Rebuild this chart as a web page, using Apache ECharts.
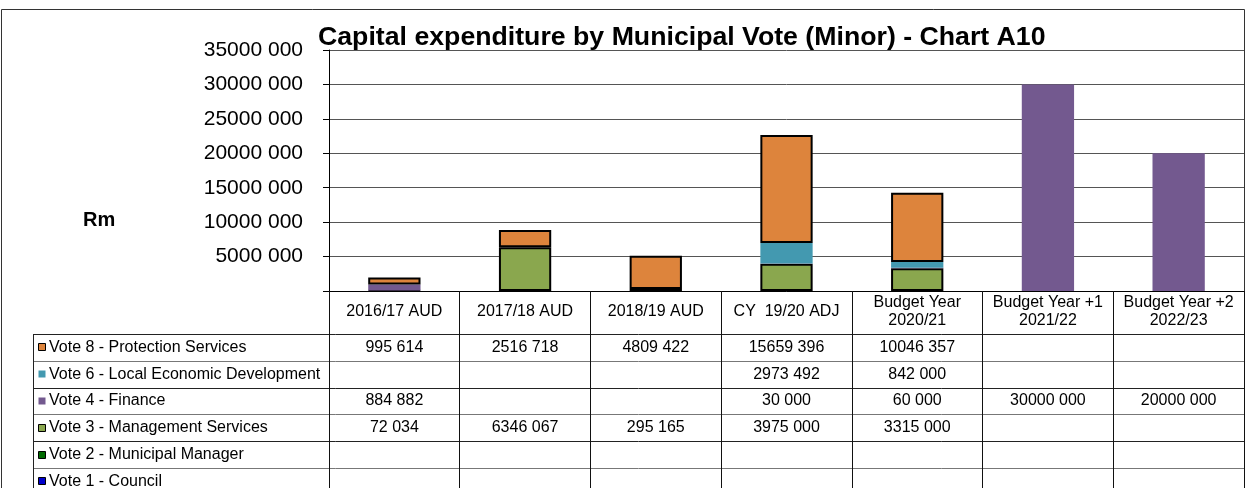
<!DOCTYPE html>
<html>
<head>
<meta charset="utf-8">
<script src="https://cdn.jsdelivr.net/npm/echarts@6/dist/echarts.min.js"></script>
<style>
  html, body { margin: 0; padding: 0; background: #fff; }
  #chart { width: 1251px; height: 488px; }
</style>
</head>
<body>
<div id="chart"></div>
<script>
// Categories (financial years) shown in the header row of the data table
const categories = [
  '2016/17 AUD', '2017/18 AUD', '2018/19 AUD', 'CY  19/20 ADJ',
  'Budget Year\n2020/21', 'Budget Year +1\n2021/22', 'Budget Year +2\n2022/23'
];

// Capital expenditure per vote (Rand)
const vote8 = [995614, 2516718, 4809422, 15659396, 10046357, null, null];
const vote6 = [null, null, null, 2973492, 842000, null, null];
const vote4 = [884882, null, null, 30000, 60000, 30000000, 20000000];
const vote3 = [72034, 6346067, 295165, 3975000, 3315000, null, null];
const vote2 = [null, null, null, null, null, null, null];
const vote1 = [null, null, null, null, null, null, null];

// Table rows, top to bottom
const rowNames = [
  'Vote 8 - Protection Services',
  'Vote 6 - Local Economic Development',
  'Vote 4 - Finance',
  'Vote 3 - Management Services',
  'Vote 2 - Municipal Manager',
  'Vote 1 - Council'
];
const rowData = [vote8, vote6, vote4, vote3, vote2, vote1];

// Value axis range
const yMin = 0, yMax = 35000000, yStep = 5000000;

const FONT = "'Liberation Sans', Arial, sans-serif";
const colors = ['#DD843C', '#4399B0', '#73598F', '#8AA74E', '#006A00', '#0000CC'];
const bordered = [true, false, false, true, true, true];

// "35000 000" style: last three digits split off by a space
function fmt(v) {
  if (v == null) return '';
  const th = Math.floor(v / 1000);
  const r = v % 1000;
  return th > 0 ? th + ' ' + String(r).padStart(3, '0') : String(r);
}

const chart = echarts.init(document.getElementById('chart'), null, { renderer: 'canvas' });

// Stack from the bottom: Vote 1 .. Vote 8
const stackOrder = [5, 4, 3, 2, 1, 0];
const series = stackOrder.map(i => ({
  name: rowNames[i],
  type: 'bar',
  stack: 'total',
  barCategoryGap: '60%',
  data: rowData[i],
  itemStyle: {
    color: colors[i],
    borderColor: bordered[i] ? '#000' : colors[i],
    borderWidth: bordered[i] ? 2 : 0
  }
}));

chart.setOption({
  animation: false,
  textStyle: { fontFamily: FONT },
  title: {
    text: 'Capital expenditure by Municipal Vote (Minor) - Chart A10',
    left: 313,
    top: 19,
    textStyle: { fontFamily: FONT, fontSize: 26.7, fontWeight: 'bold', color: '#000' }
  },
  grid: { left: 329, right: 7, top: 50, bottom: 197, containLabel: false },
  xAxis: {
    type: 'category',
    data: categories,
    boundaryGap: true,
    axisLine: { show: true, lineStyle: { color: '#000', width: 1 } },
    axisTick: { show: true, interval: 0, length: 197, lineStyle: { color: '#111', width: 1 } },
    axisLabel: {
      interval: 0,
      margin: 21,
      verticalAlign: 'middle',
      fontFamily: FONT,
      fontSize: 16,
      lineHeight: 18,
      color: '#000'
    }
  },
  yAxis: {
    type: 'value',
    min: yMin,
    max: yMax,
    interval: yStep,
    axisLine: { show: true, lineStyle: { color: '#000', width: 1 } },
    axisTick: { show: true, length: 6, lineStyle: { color: '#000' } },
    splitLine: { show: true, lineStyle: { color: '#555', width: 1 } },
    axisLabel: {
      margin: 26,
      fontFamily: FONT,
      fontSize: 21,
      color: '#000',
      formatter: v => (v === 0 ? '' : fmt(v))
    }
  },
  series: series
});

// Data table under the plot, aligned with the category axis
function buildTable() {
  const top = 334, rowH = 26.8, leftX = 33, rightX = 1244;
  const g = [];

  // outer frame
  g.push({ type: 'rect', shape: { x: 1.5, y: 9.5, width: 1243, height: 500 },
           style: { fill: 'none', stroke: '#333', lineWidth: 1 }, silent: true });

  // axis title
  g.push({ type: 'text', x: 83, y: 220,
           style: { text: 'Rm', font: 'bold 20px ' + FONT, fill: '#000', verticalAlign: 'middle' } });

  // row separators
  for (let r = 0; r < rowNames.length; r++) {
    const y = Math.round(top + r * rowH) + 0.5;
    g.push({ type: 'line', shape: { x1: leftX, y1: y, x2: rightX, y2: y },
             style: { stroke: r % 2 ? '#777' : '#222', lineWidth: 1 }, silent: true });
  }
  // left edge of the row-label column
  g.push({ type: 'line', shape: { x1: leftX + 0.5, y1: top, x2: leftX + 0.5, y2: 488 },
           style: { stroke: '#222', lineWidth: 1 }, silent: true });

  rowNames.forEach((name, r) => {
    const cy = top + r * rowH + rowH / 2;
    g.push({ type: 'rect', shape: { x: 38.5, y: Math.round(cy - 4) + 0.5, width: 7, height: 7 },
             style: { fill: colors[r], stroke: bordered[r] ? '#000' : null, lineWidth: bordered[r] ? 1 : 0 } });
    g.push({ type: 'text', x: 49, y: cy,
             style: { text: name, font: '16px ' + FONT, fill: '#000', verticalAlign: 'middle' } });
    rowData[r].forEach((v, c) => {
      if (v == null) return;
      const cx = chart.convertToPixel({ xAxisIndex: 0 }, c);
      g.push({ type: 'text', x: cx, y: cy,
               style: { text: fmt(v), font: '16px ' + FONT, fill: '#000', align: 'center', verticalAlign: 'middle' } });
    });
  });
  chart.setOption({ graphic: g });
}
buildTable();
</script>
</body>
</html>
